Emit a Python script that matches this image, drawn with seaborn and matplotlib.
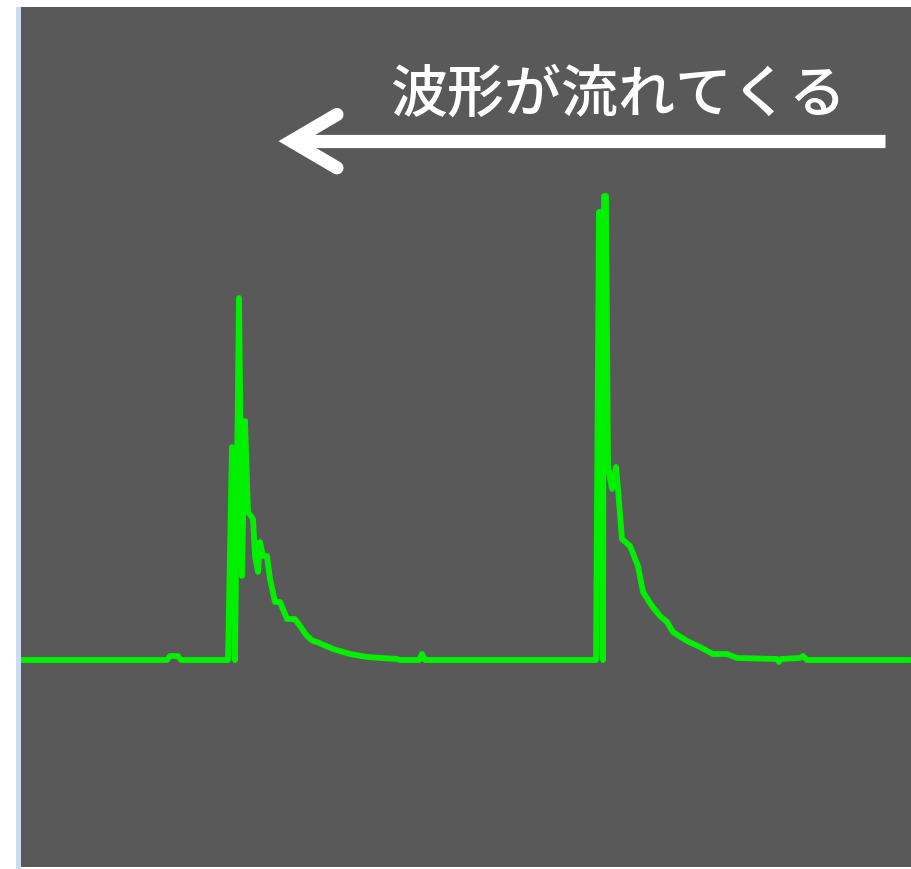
import matplotlib
matplotlib.use("Agg")
import matplotlib.pyplot as plt
import seaborn as sns
import pandas as pd
from matplotlib.patches import Rectangle

# waveform samples (time in screen units, amplitude above baseline)
time = [22, 167, 170, 178, 181, 228, 232, 235, 239, 242, 245, 248, 253, 255,
        258, 260, 263, 267, 270, 275, 280, 287, 295, 300, 307, 313, 317, 333,
        350, 367, 397, 400, 419, 422, 425, 596, 599, 601, 603, 604, 606, 608,
        612, 616, 618, 622, 630, 638, 643, 652, 660, 667, 673, 687, 700, 713,
        727, 737, 777, 779, 781, 800, 803, 807, 910]
amplitude = [0, 0, 4, 4, 0, 0, 213, 0, 362, 84, 239, 148, 141, 104,
             88, 118, 104, 104, 81, 58, 58, 41, 41, 34, 24, 19, 18, 11,
             6, 3, 1, 0, 0, 6, 0, 0, 448, 448, 0, 464, 464, 194,
             171, 193, 171, 121, 114, 94, 68, 54, 44, 38, 28, 19, 13, 6,
             6, 2, 1, -2, 1, 2, 4, 0, 0]

label = "波形が流れてくる"

df = pd.DataFrame({"time": time, "amplitude": amplitude})

sns.set_style("white")
plt.rcParams['font.family'] = ['Noto Sans CJK JP', 'DejaVu Sans']

fig = plt.figure(figsize=(9.11, 8.70), dpi=100)
fig.patch.set_facecolor("white")

# thin bluish window edge on the left
fig.patches.append(Rectangle((16 / 911, 0), 5 / 911, 862 / 870, transform=fig.transFigure,
                             facecolor="#c9dcf0", edgecolor="none"))

ax = fig.add_axes([21 / 911, 2 / 870, 890 / 911, 860 / 870])
ax.set_facecolor("#595959")

sns.lineplot(data=df, x="time", y="amplitude", ax=ax, sort=False, estimator=None,
             color="#00f000", linewidth=4.2)

ax.set_xlim(21, 911)
ax.set_ylim(-207, 653)
ax.set_xticks([])
ax.set_yticks([])
ax.set_xlabel("")
ax.set_ylabel("")
for s in ax.spines.values():
    s.set_visible(False)

# label and arrow
ax.text(0.671, 0.898, label, transform=ax.transAxes, color="white", fontsize=41,
        fontweight="medium", ha="center", va="center")
ax.plot([0.305, 0.971], [0.844, 0.844], transform=ax.transAxes, color="white",
        linewidth=9.5, solid_capstyle="butt")
ax.plot([0.355, 0.304, 0.355], [0.875, 0.844, 0.813], transform=ax.transAxes,
        color="white", linewidth=9.5, solid_capstyle="round", solid_joinstyle="miter")

fig.savefig("out.png", dpi=100, facecolor=fig.get_facecolor())
